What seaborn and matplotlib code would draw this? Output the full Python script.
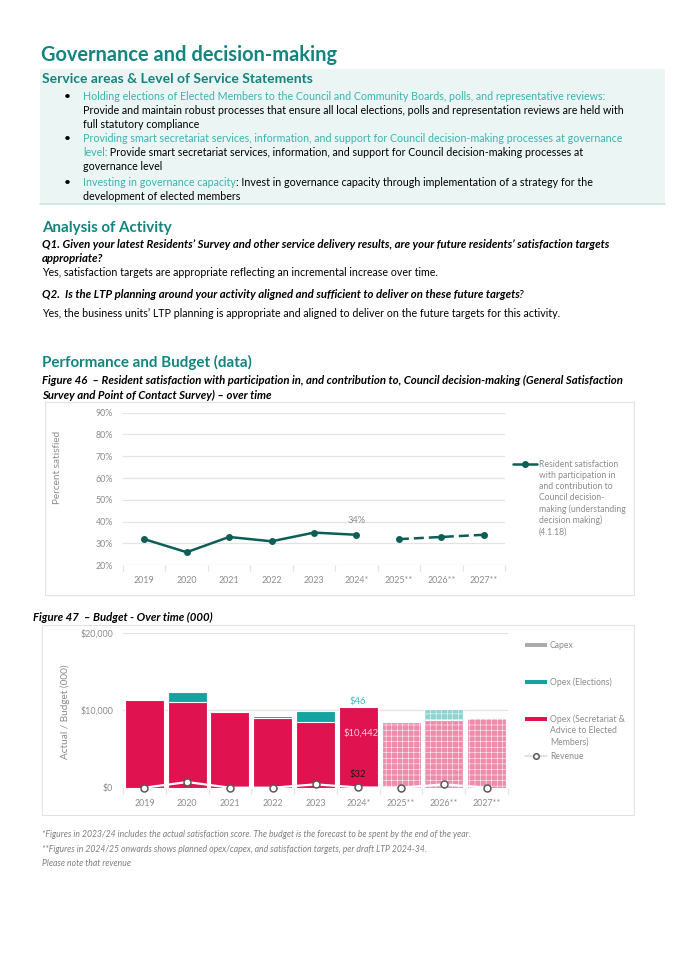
import numpy as np
import pandas as pd
import matplotlib
matplotlib.use('Agg')
import matplotlib.pyplot as plt
from matplotlib.patches import Rectangle
from matplotlib.ticker import FuncFormatter
import seaborn as sns

# ---- data ----
years = ['2019', '2020', '2021', '2022', '2023', '2024*', '2025**', '2026**', '2027**']
n_actual = 6  # 2025 onwards are targets / planned budget

satisfaction = [32, 26, 33, 31, 35, 34, 32, 33, 34]

opex_secretariat = [11300, 11120, 9780, 9050, 8450, 10442, 8530, 8710, 9050]
opex_elections = [0, 1300, 50, 170, 1470, 46, 0, 1460, 0]
capex = [0, 0, 0, 0, 0, 0, 0, 0, 0]
revenue = [0, 730, 0, 0, 430, 32, 0, 430, 0]

legend_sat = ['Resident satisfaction', 'with participation in', 'and contribution to',
              'Council decision-', 'making (understanding', 'decision making)', '(4.1.18)']

# ---- colours ----
TEAL_HEAD = '#13847E'
TEAL_LIGHT = '#3BB4AF'
LINE_COL = '#0C5E57'
PINK = '#E0124F'
PINK_PLAN = '#EE8CAC'
TEAL = '#14A39F'
TEAL_PLAN = '#8ED4D1'
GRAY = '#ABABAB'
GRAY_PLAN = '#D3D3D3'
AXIS_TXT = '#8C8C8C'
GRID = '#E3E3E3'

W, H = 675, 955

sns.set_theme(style='white')
plt.rcParams['font.family'] = ['Lato', 'DejaVu Sans']
plt.rcParams['hatch.linewidth'] = 0.35

fig = plt.figure(figsize=(W / 100, H / 100), dpi=100)
fig.patch.set_facecolor('white')

# page layer in pixel coordinates (y down)
bg = fig.add_axes([0, 0, 1, 1], zorder=0)
bg.set_xlim(0, W)
bg.set_ylim(H, 0)
bg.axis('off')


def rect(x0, y0, x1, y1):
    return [x0 / W, 1 - y1 / H, (x1 - x0) / W, (y1 - y0) / H]


def txt(x, y, s, size, color='black', weight='normal', style='normal', **kw):
    return bg.text(x, y, s, fontsize=size, color=color, fontweight=weight,
                   fontstyle=style, va='center', ha='left', **kw)


def after(prev, s, size, color='black', weight='normal', style='normal', shift=0):
    return bg.annotate(s, xy=(1, 0), xycoords=prev, xytext=(shift, 0), textcoords='offset points',
                       va='bottom', ha='left', fontsize=size, color=color,
                       fontweight=weight, fontstyle=style)


BODY = 7.65
BI = 8.2    # bold italic questions / captions
HEAD = 10.9

# ---- header & service statements ----
txt(41, 55, 'Governance and decision-making', 14.4, TEAL_HEAD, 'bold')
bg.add_patch(Rectangle((40, 69), 625, 135, facecolor='#EAF5F4', edgecolor='none'))
bg.plot([40, 665], [204, 204], color='#C9E7E4', lw=1.2)
txt(42, 79, 'Service areas & Level of Service Statements', 10, TEAL_HEAD, 'bold')

for yb in (96, 139, 182):
    txt(64, yb, '\u2022', BODY + 1)
txt(83, 96, 'Holding elections of Elected Members to the Council and Community Boards, polls, and representative reviews:', BODY, TEAL_LIGHT)
txt(83, 110, 'Provide and maintain robust processes that ensure all local elections, polls and representation reviews are held with', BODY)
txt(83, 124, 'full statutory compliance', BODY)
txt(83, 139, 'Providing smart secretariat services, information, and support for Council decision-making processes at governance', BODY, TEAL_LIGHT)
t = txt(83, 153, 'level:', BODY, TEAL_LIGHT)
after(t, ' Provide smart secretariat services, information, and support for Council decision-making processes at', BODY)
txt(83, 167, 'governance level', BODY)
t = txt(83, 182, 'Investing in governance capacity', BODY, TEAL_LIGHT)
after(t, ': Invest in governance capacity through implementation of a strategy for the', BODY)
txt(83, 196, 'development of elected members', BODY)

# ---- analysis ----
txt(42, 228, 'Analysis of Activity', HEAD, TEAL_HEAD, 'bold')
txt(42, 244, 'Q1. Given your latest Residents\u2019 Survey and other service delivery results, are your future residents\u2019 satisfaction targets',
    BI, weight='bold', style='italic')
txt(42, 258.5, 'appropriate?', BI, weight='bold', style='italic')
txt(42, 272, 'Yes, satisfaction targets are appropriate reflecting an incremental increase over time.', BODY)
t = txt(42, 294, 'Q2.  Is the LTP planning around your activity aligned and sufficient to deliver on these future targets',
        BI, weight='bold', style='italic')
after(t, '?', BI, style='italic', shift=-1.5)
txt(42, 313, 'Yes, the business units\u2019 LTP planning is appropriate and aligned to deliver on the future targets for this activity.', BODY)

# ---- performance ----
txt(42, 362, 'Performance and Budget (data)', HEAD, TEAL_HEAD, 'bold')
txt(42, 380, 'Figure 46  \u2013 Resident satisfaction with participation in, and contribution to, Council decision-making (General Satisfaction',
    BI, weight='bold', style='italic')
txt(42, 395, 'Survey and Point of Contact Survey) \u2013 over time', BI, weight='bold', style='italic')
bg.add_patch(Rectangle((45, 402), 589, 193, facecolor='white', edgecolor='#E2E2E2', lw=0.8))

txt(33, 617, 'Figure 47  \u2013 Budget - Over time (000)', BI, weight='bold', style='italic')
bg.add_patch(Rectangle((42, 625), 592, 190, facecolor='white', edgecolor='#E2E2E2', lw=0.8))

# ---- line chart ----
idx = np.arange(len(years))
sat = pd.DataFrame({'pos': idx, 'pct': satisfaction})
ax1 = fig.add_axes(rect(123, 412.7, 505, 565.3), zorder=1)
ax1.set_facecolor('none')
sns.lineplot(data=sat.iloc[:n_actual], x='pos', y='pct', ax=ax1, color=LINE_COL, lw=1.8,
             marker='o', markersize=5, markeredgewidth=0)
sns.lineplot(data=sat.iloc[n_actual:], x='pos', y='pct', ax=ax1, color=LINE_COL, lw=1.8,
             marker='o', markersize=5, markeredgewidth=0, linestyle=(0, (4, 2)))
ax1.annotate(f'{satisfaction[n_actual - 1]}%', (n_actual - 1, satisfaction[n_actual - 1]),
             xytext=(0, 10), textcoords='offset points', ha='center', va='center',
             fontsize=6.6, color=AXIS_TXT)
ax1.set_ylim(20, 90)
ax1.set_yticks(range(20, 91, 10))
ax1.yaxis.set_major_formatter(FuncFormatter(lambda v, p: f'{v:.0f}%'))
ax1.set_xlim(-0.5, len(years) - 0.5)
ax1.set_xticks(idx, years)
ax1.set_xticks(np.arange(-0.5, len(years), 1), minor=True)
ax1.grid(axis='y', color=GRID, lw=0.9)
ax1.set_axisbelow(True)
for s in ax1.spines.values():
    s.set_visible(False)
ax1.tick_params(axis='both', which='major', length=0, labelsize=6.4, labelcolor=AXIS_TXT)
ax1.tick_params(axis='x', which='major', pad=8)
ax1.tick_params(axis='y', which='major', pad=7)
ax1.tick_params(axis='x', which='minor', length=4, color=GRID, width=0.9, bottom=True)
ax1.set_xlabel('')
ax1.set_ylabel('Percent satisfied', fontsize=7.2, color=AXIS_TXT)
ax1.yaxis.set_label_coords(-0.16, 0.64)

bg.plot([513, 537], [464, 464], color=LINE_COL, lw=1.8)
bg.plot([525], [464], 'o', color=LINE_COL, ms=4)
for i, line in enumerate(legend_sat):
    txt(539, 464 + i * 11.3, line, 6.2, AXIS_TXT)

# ---- budget chart ----
budget = pd.DataFrame({'year': years, 'secretariat': opex_secretariat,
                       'elections': opex_elections, 'capex': capex, 'revenue': revenue})
budget['stack_elec'] = budget['secretariat'] + budget['elections']
budget['stack_capex'] = budget['stack_elec'] + budget['capex']

ax2 = fig.add_axes(rect(123, 633, 508, 787.7), zorder=1)
ax2.set_facecolor('none')
layers = [('stack_capex', GRAY, GRAY_PLAN), ('stack_elec', TEAL, TEAL_PLAN), ('secretariat', PINK, PINK_PLAN)]
for col, color, _ in layers:
    sns.barplot(data=budget, x='year', y=col, color=color, saturation=1, width=0.91,
                errorbar=None, edgecolor='white', linewidth=0.8, ax=ax2)
for cont, (_, _, plan_col) in zip(ax2.containers, layers):
    for i, bar in enumerate(cont):
        if i >= n_actual:
            bar.set_facecolor(plan_col)
            bar.set_hatch('+++')

sns.lineplot(x=idx, y=revenue, ax=ax2, color='white', lw=1.6, marker='o', markersize=5,
             markerfacecolor='white', markeredgecolor='#5A5A5A', markeredgewidth=1.1,
             clip_on=False, zorder=5)

ax2.annotate(f'${opex_elections[n_actual - 1]:,}', (n_actual - 1, budget['stack_elec'][n_actual - 1]),
             xytext=(0, 0.5), textcoords='offset points', ha='center', va='bottom',
             fontsize=6.8, color='#3CC0C0')
ax2.annotate(f'${opex_secretariat[n_actual - 1]:,}', (n_actual - 1, opex_secretariat[n_actual - 1]),
             xytext=(2, -19), textcoords='offset points', ha='center', va='center',
             fontsize=6.8, color='#F8CFDB')
ax2.annotate(f'${revenue[n_actual - 1]:,}', (n_actual - 1, revenue[n_actual - 1]),
             xytext=(0, 9), textcoords='offset points', ha='center', va='center',
             fontsize=6.8, color='#1A1A1A')

ax2.set_ylim(0, 20000)
ax2.set_yticks([0, 10000, 20000])
ax2.yaxis.set_major_formatter(FuncFormatter(lambda v, p: f'${v:,.0f}'))
ax2.set_xlim(-0.5, len(years) - 0.5)
ax2.set_xticks(idx, years)
ax2.set_xticks(np.arange(-0.5, len(years), 1), minor=True)
ax2.grid(axis='y', color=GRID, lw=0.9)
ax2.set_axisbelow(True)
for s in ax2.spines.values():
    s.set_visible(False)
ax2.tick_params(axis='both', which='major', length=0, labelsize=6.4, labelcolor=AXIS_TXT)
ax2.tick_params(axis='x', which='major', pad=8)
ax2.tick_params(axis='y', which='major', pad=7)
ax2.tick_params(axis='x', which='minor', length=4, color=GRID, width=0.9, bottom=True)
ax2.set_xlabel('')
ax2.set_ylabel('Actual / Budget (000)', fontsize=7.2, color=AXIS_TXT)
ax2.yaxis.set_label_coords(-0.138, 0.49)

bg.add_patch(Rectangle((525, 643), 22, 4, facecolor=GRAY, edgecolor='none'))
txt(550, 645, 'Capex', 6.2, AXIS_TXT)
bg.add_patch(Rectangle((525, 680), 22, 4, facecolor=TEAL, edgecolor='none'))
txt(550, 682, 'Opex (Elections)', 6.2, AXIS_TXT)
bg.add_patch(Rectangle((525, 717), 22, 4, facecolor=PINK, edgecolor='none'))
for i, line in enumerate(['Opex (Secretariat &', 'Advice to Elected', 'Members)']):
    txt(550, 719 + i * 11.5, line, 6.2, AXIS_TXT)
bg.plot([525, 547], [756, 756], color='#DDDDDD', lw=1.2)
bg.plot([536], [756], 'o', ms=4, mfc='white', mec='#5A5A5A', mew=1.1)
txt(550, 756, 'Revenue', 6.2, AXIS_TXT)

# ---- footnotes ----
NOTE = '#7F7F7F'
txt(42, 834, '*Figures in 2023/24 includes the actual satisfaction score. The budget is the forecast to be spent by the end of the year.', 6.2, NOTE, style='italic')
txt(42, 849, '**Figures in 2024/25 onwards shows planned opex/capex, and satisfaction targets, per draft LTP 2024-34.', 6.2, NOTE, style='italic')
txt(42, 863, 'Please note that revenue', 6.2, NOTE, style='italic')

fig.savefig('out.png', dpi=100)
